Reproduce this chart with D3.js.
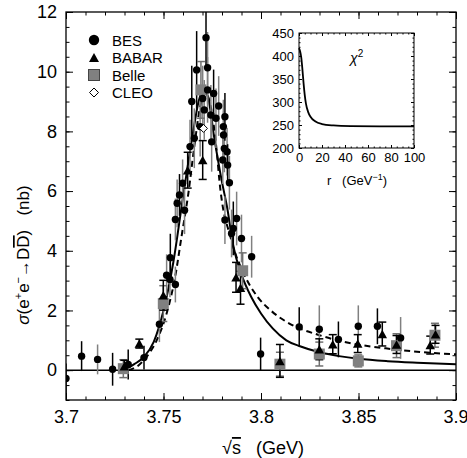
<!DOCTYPE html>
<html lang="en">
<head>
<meta charset="UTF-8">
<title>e+e- -> DDbar cross section</title>
<script src="https://cdn.jsdelivr.net/npm/d3@7"></script>
<style>
  body { margin: 0; background: #fff; }
  text { font-family: "Liberation Sans", Arial, Helvetica, sans-serif; fill: #000; }
</style>
</head>
<body>
<div id="chart"></div>
<script>
// ---- data ----
// [sqrt(s) GeV, sigma nb, error]
const besBlack = [
  [3.7000, -0.28, 0.5], [3.7080, 0.47, 0.5], [3.7239, 0.03, 0.55], [3.7319, 0.19, 0.5],
  [3.7400, 0.42, 0.4], [3.7535, 3.77, 0.8], [3.7582, 5.87, 0.7], [3.7645, 9.00, 1.2],
  [3.7670, 10.06, 1.3], [3.7718, 11.14, 0.95], [3.7757, 9.27, 0.8], [3.7815, 8.49, 0.8],
  [3.7829, 6.87, 0.7], [3.7858, 4.75, 0.9], [3.7998, 0.54, 0.55], [3.8196, 1.45, 0.66],
  [3.8397, 1.03, 0.6], [3.8597, 1.47, 0.6]
];
const besGray = [
  [3.7162, 0.36, 0.5], [3.7479, 1.54, 0.6], [3.7516, 3.18, 0.7], [3.7533, 3.04, 0.6],
  [3.7561, 2.87, 0.6], [3.7570, 5.59, 0.8], [3.7561, 5.05, 0.7], [3.7598, 6.26, 0.8],
  [3.7608, 5.36, 0.8], [3.7636, 7.49, 0.9], [3.7658, 7.77, 1.0], [3.7688, 8.16, 1.0],
  [3.7701, 9.10, 1.1], [3.7709, 8.72, 1.0], [3.7726, 9.39, 1.1], [3.7726, 10.13, 1.2],
  [3.7743, 8.55, 1.0], [3.7747, 7.65, 1.0], [3.7769, 8.44, 1.0], [3.7783, 8.85, 1.0],
  [3.7804, 7.04, 0.8], [3.7807, 8.16, 0.9], [3.7808, 7.88, 0.8], [3.7812, 7.43, 0.8],
  [3.7815, 5.03, 0.8], [3.7826, 7.32, 0.8], [3.7838, 6.28, 0.9], [3.7849, 4.58, 0.8],
  [3.7875, 5.08, 0.9], [3.7900, 4.41, 0.8], [3.7952, 3.80, 0.7], [3.8299, 1.37, 0.8],
  [3.8499, 1.47, 0.7], [3.8716, 1.08, 0.7]
];
const babar = [
  [3.7299, 0.13, 0.2], [3.7376, 0.89, 0.15], [3.7499, 2.51, 0.5], [3.7624, 6.70, 0.6],
  [3.7701, 7.04, 0.65], [3.7872, 3.11, 0.5], [3.7895, 2.76, 0.55], [3.8097, 0.31, 0.55],
  [3.8299, 0.70, 0.35], [3.8368, 0.87, 0.32], [3.8496, 0.89, 0.3], [3.8622, 1.21, 0.4],
  [3.8695, 0.86, 0.3], [3.8868, 0.84, 0.3], [3.8895, 1.20, 0.3]
];
const belle = [
  [3.7294, 0.05, 0.3], [3.7499, 2.23, 0.6], [3.7692, 9.39, 0.95], [3.7906, 3.33, 0.6],
  [3.8097, 0.20, 0.4], [3.8299, 0.54, 0.4], [3.8499, 0.31, 0.2], [3.8695, 0.82, 0.4],
  [3.8892, 1.17, 0.4]
];
const cleo = [[3.7705, 8.1, 0.5]];

const solidCurve = [
  [3.7297, 0], [3.735, 0.2], [3.740, 0.45], [3.745, 0.95], [3.750, 2.0], [3.755, 3.6],
  [3.760, 5.8], [3.765, 7.9], [3.768, 9.0], [3.7705, 9.4], [3.773, 9.1], [3.776, 7.8],
  [3.780, 6.3], [3.7825, 5.5], [3.786, 4.1], [3.790, 3.2], [3.795, 2.45], [3.800, 1.9],
  [3.806, 1.4], [3.813, 1.0], [3.820, 0.8], [3.830, 0.6], [3.840, 0.47], [3.850, 0.38],
  [3.865, 0.30], [3.880, 0.25], [3.900, 0.20]
];
const dashedCurve = [
  [3.732, 0], [3.737, 0.15], [3.741, 0.42], [3.7465, 1.0], [3.7516, 1.9], [3.7559, 3.1],
  [3.7593, 4.5], [3.7627, 5.9], [3.766, 7.6], [3.769, 8.9], [3.7715, 9.3], [3.774, 8.9],
  [3.7775, 7.2], [3.7786, 6.4], [3.7846, 4.4], [3.7914, 3.2], [3.7983, 2.45], [3.805, 2.0],
  [3.813, 1.62], [3.830, 1.17], [3.847, 0.89], [3.864, 0.73], [3.8815, 0.61], [3.900, 0.53]
];

// inset: chi^2 vs r
const insetR   = [0, 1, 2, 3, 4, 5, 6, 8, 10, 14, 20, 30, 45, 70, 100];
const insetChi = [417, 410, 396, 370, 340, 315, 297, 278, 268, 258, 252, 249, 247.5, 247, 247];

const xTicks = [3.7, 3.75, 3.8, 3.85, 3.9];
const yTicks = [0, 2, 4, 6, 8, 10, 12];
const insetXTicks = [0, 20, 40, 60, 80, 100];
const insetYTicks = [200, 250, 300, 350, 400, 450];
const legendNames = ["BES", "BABAR", "Belle", "CLEO"];

// ---- chart ----
const W = 467, H = 458;
const svg = d3.select("#chart").append("svg").attr("width", W).attr("height", H);

const x = d3.scaleLinear().domain([3.7, 3.9]).range([66, 456]);
const y = d3.scaleLinear().domain([-1, 12]).range([400, 12]);

svg.append("clipPath").attr("id", "plotclip").append("rect")
  .attr("x", x.range()[0]).attr("y", y.range()[1])
  .attr("width", x.range()[1] - x.range()[0]).attr("height", y.range()[0] - y.range()[1]);

const plot = svg.append("g").attr("clip-path", "url(#plotclip)");

// zero line
plot.append("line")
  .attr("x1", x(3.7)).attr("x2", x(3.9)).attr("y1", y(0)).attr("y2", y(0))
  .attr("stroke", "#000").attr("stroke-width", 1.5);

const line = d3.line().x(d => x(d[0])).y(d => y(d[1])).curve(d3.curveMonotoneX);
plot.append("path").datum(dashedCurve).attr("d", line)
  .attr("fill", "none").attr("stroke", "#000").attr("stroke-width", 2).attr("stroke-dasharray", "6,4");
plot.append("path").datum(solidCurve).attr("d", line)
  .attr("fill", "none").attr("stroke", "#000").attr("stroke-width", 2);

// error bars
function errBars(data, color, cap) {
  const g = plot.append("g").attr("stroke", color).attr("stroke-width", 1.5);
  g.selectAll("line.v").data(data).join("line")
    .attr("x1", d => x(d[0])).attr("x2", d => x(d[0]))
    .attr("y1", d => y(d[1] - d[2])).attr("y2", d => y(d[1] + d[2]));
  if (cap) {
    [-1, 1].forEach(s => {
      g.selectAll("line.c" + (s + 1)).data(data).join("line")
        .attr("x1", d => x(d[0]) - cap).attr("x2", d => x(d[0]) + cap)
        .attr("y1", d => y(d[1] + s * d[2])).attr("y2", d => y(d[1] + s * d[2]));
    });
  }
}
errBars(besGray, "#808080", 0);
errBars(besBlack, "#000", 0);
errBars(belle, "#707070", 4);
errBars(babar, "#000", 4);

// markers
const tri = (cx, cy, w, h) => `M${cx - w / 2},${cy + h / 2}L${cx + w / 2},${cy + h / 2}L${cx},${cy - h / 2}Z`;
const dia = (cx, cy, r) => `M${cx},${cy - r}L${cx + r},${cy}L${cx},${cy + r}L${cx - r},${cy}Z`;

plot.selectAll("rect.belle").data(belle).join("rect")
  .attr("x", d => x(d[0]) - 5.5).attr("y", d => y(d[1]) - 5.5)
  .attr("width", 11).attr("height", 11).attr("fill", "#808080");
plot.selectAll("circle.bes").data(besGray.concat(besBlack)).join("circle")
  .attr("cx", d => x(d[0])).attr("cy", d => y(d[1])).attr("r", 3.7).attr("fill", "#000");
plot.selectAll("path.babar").data(babar).join("path")
  .attr("d", d => tri(x(d[0]), y(d[1]), 9.5, 8.5)).attr("fill", "#000");
plot.selectAll("path.cleo").data(cleo).join("path")
  .attr("d", d => dia(x(d[0]), y(d[1]), 4)).attr("fill", "#fff").attr("stroke", "#000");

// frame + ticks
svg.append("rect").attr("x", 66).attr("y", 12).attr("width", 390).attr("height", 388)
  .attr("fill", "none").attr("stroke", "#000").attr("stroke-width", 1.3);

function axis(fn, scale, tr, vals, size, pad, fmt, fs) {
  const g = svg.append("g").attr("transform", tr)
    .call(fn(scale).tickValues(vals).tickSizeInner(size).tickSizeOuter(0).tickPadding(pad).tickFormat(fmt));
  g.select(".domain").remove();
  g.selectAll("text").style("font-size", fs).style("font-family", '"Liberation Sans", Arial, sans-serif');
  g.selectAll("line").attr("stroke", "#000");
  return g;
}
const fmtX = d => String(+d.toFixed(2));
const none = () => "";
const xa = axis(d3.axisBottom, x, "translate(0,400)", xTicks, -7, 10, fmtX, "18px");
// last label sits at the window edge, as in the figure
xa.selectAll("text").filter(d => d === 3.9).attr("text-anchor", "end").attr("dx", 12);
axis(d3.axisBottom, x, "translate(0,400)", x.ticks(20), -3.5, 0, none, "1px");
axis(d3.axisTop, x, "translate(0,12)", xTicks, -7, 0, none, "1px");
axis(d3.axisTop, x, "translate(0,12)", x.ticks(20), -3.5, 0, none, "1px");
axis(d3.axisLeft, y, "translate(66,0)", yTicks, -7, 9, d => d, "18px");
axis(d3.axisLeft, y, "translate(66,0)", y.ticks(26), -3.5, 0, none, "1px");
axis(d3.axisRight, y, "translate(456,0)", yTicks, -7, 0, none, "1px");
axis(d3.axisRight, y, "translate(456,0)", y.ticks(26), -3.5, 0, none, "1px");

// axis titles
const xt = svg.append("text").attr("x", 263).attr("y", 454).attr("text-anchor", "middle")
  .style("font-size", "18px").style("white-space", "pre");
xt.append("tspan").text("\u221a");
xt.append("tspan").style("text-decoration", "overline").text("s");
xt.append("tspan").text("   (GeV)");

const yt = svg.append("text").attr("transform", "translate(29,255) rotate(-90)")
  .attr("text-anchor", "middle").style("font-size", "17px").style("white-space", "pre");
yt.append("tspan").style("font-style", "italic").text("\u03c3");
yt.append("tspan").text("(e");
yt.append("tspan").attr("dy", -7).style("font-size", "11px").text("+");
yt.append("tspan").attr("dy", 7).text("e");
yt.append("tspan").attr("dy", -7).style("font-size", "11px").text("\u2212");
yt.append("tspan").attr("dy", 7).text("\u2192D");
yt.append("tspan").style("text-decoration", "overline").text("D");
yt.append("tspan").text(")   (nb)");

// legend
const leg = svg.append("g");
const legY = [40, 57.5, 75, 92.5];
leg.append("circle").attr("cx", 94).attr("cy", legY[0]).attr("r", 5.2).attr("fill", "#000");
leg.append("path").attr("d", tri(94, legY[1], 10, 9)).attr("fill", "#000");
leg.append("rect").attr("x", 88.5).attr("y", legY[2] - 5.5).attr("width", 11).attr("height", 11)
  .attr("fill", "#808080").attr("stroke", "#444").attr("stroke-width", 1);
leg.append("path").attr("d", dia(94, legY[3], 4.5)).attr("fill", "#fff").attr("stroke", "#000");
leg.selectAll("text").data(legendNames).join("text")
  .attr("x", 112).attr("y", (d, i) => legY[i] + 5.5).style("font-size", "15px").text(d => d);

// inset
const ix = d3.scaleLinear().domain([0, 100]).range([299, 414]);
const iy = d3.scaleLinear().domain([200, 450]).range([148, 33]);
svg.append("rect").attr("x", 299).attr("y", 33).attr("width", 115).attr("height", 115)
  .attr("fill", "#fff").attr("stroke", "#000").attr("stroke-width", 1);
const ifmt = d => d;
axis(d3.axisBottom, ix, "translate(0,148)", insetXTicks, -3, 5, ifmt, "13px");
axis(d3.axisBottom, ix, "translate(0,148)", d3.range(0, 101, 5), -1.5, 0, none, "1px");
axis(d3.axisTop, ix, "translate(0,33)", insetXTicks, -3, 0, none, "1px");
axis(d3.axisTop, ix, "translate(0,33)", d3.range(0, 101, 5), -1.5, 0, none, "1px");
axis(d3.axisLeft, iy, "translate(299,0)", insetYTicks, -3, 5, ifmt, "13px");
axis(d3.axisLeft, iy, "translate(299,0)", d3.range(200, 451, 10), -1.5, 0, none, "1px");
axis(d3.axisRight, iy, "translate(414,0)", insetYTicks, -3, 0, none, "1px");
axis(d3.axisRight, iy, "translate(414,0)", d3.range(200, 451, 10), -1.5, 0, none, "1px");

svg.append("path").datum(insetR.map((r, i) => [r, insetChi[i]]))
  .attr("d", d3.line().x(d => ix(d[0])).y(d => iy(d[1])).curve(d3.curveMonotoneX))
  .attr("fill", "none").attr("stroke", "#000").attr("stroke-width", 1.8);

const chi = svg.append("text").attr("x", 350).attr("y", 63).style("font-size", "14px");
chi.append("tspan").style("font-style", "italic").text("\u03c7");
chi.append("tspan").attr("dy", -6).style("font-size", "10px").text("2");

const rl = svg.append("text").attr("x", 357).attr("y", 185).attr("text-anchor", "middle")
  .style("font-size", "13px").style("white-space", "pre");
rl.append("tspan").text("r   (GeV");
rl.append("tspan").attr("dy", -5).style("font-size", "9px").text("\u22121");
rl.append("tspan").attr("dy", 5).text(")");
</script>
</body>
</html>
